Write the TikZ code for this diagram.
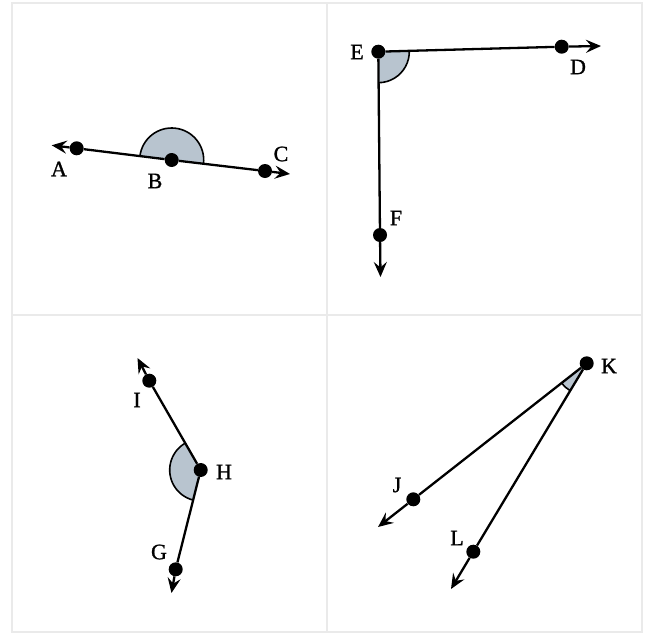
\documentclass[tikz,border=0pt]{standalone}
\usepackage{fontspec}
\setmainfont{Liberation Serif}
\newfontfamily\lblfont{Liberation Serif}[FakeBold=1.2]
\usetikzlibrary{arrows.meta}
\definecolor{wedgefill}{RGB}{184,196,207}
\definecolor{gridc}{RGB}{234,234,234}
\begin{document}
\begin{tikzpicture}[x=1pt,y=-1pt,
  dotnode/.style={circle,fill=black,inner sep=0pt,minimum size=14pt},
  lbl/.style={font=\lblfont\fontsize{22}{24}\selectfont,inner sep=0pt},
  seg/.style={line width=2.3pt},
  ray/.style={line width=2.3pt,-{Stealth[length=15pt,width=13pt,inset=5.5pt]}},
  arcline/.style={line width=1.6pt},
  frame/.style={draw=gridc,line width=1.6pt}]
\useasboundingbox (0,0) rectangle (652,637);
% frame
\draw[frame] (12,3) rectangle (642,632);
\draw[frame] (327,3) -- (327,632);
\draw[frame] (12,315) -- (642,315);

% ---- A B C
\coordinate (Bc) at (171.7,160);
\fill[wedgefill] (Bc) -- ++(6.7:32) arc[start angle=6.7,end angle=-173.3,radius=32] -- cycle;
\draw[arcline] (Bc) ++(6.7:32) arc[start angle=6.7,end angle=-173.3,radius=32];
\node[dotnode] (A) at (76.7,148.3) {};
\node[dotnode] (B) at (Bc) {};
\node[dotnode] (C) at (265,171) {};
\coordinate (At) at (51.7,145.3);
\coordinate (Ct) at (290,174);
\draw[seg] (A) -- (B);
\draw[seg] (B) -- (C);
\draw[ray] (A) -- (At);
\draw[ray] (C) -- (Ct);
\node[lbl] (la) at (59,169) {A};
\node[lbl] (lb) at (155,181) {B};
\node[lbl] (lc) at (281,154) {C};

% ---- D E F
\coordinate (Ec) at (378.3,51.7);
\fill[wedgefill] (Ec) -- ++(-1.6:31) arc[start angle=-1.6,end angle=89.5,radius=31] -- cycle;
\draw[arcline] (Ec) ++(-1.6:31) arc[start angle=-1.6,end angle=89.5,radius=31];
\node[dotnode] (E) at (Ec) {};
\node[dotnode] (D) at (561.7,46.7) {};
\node[dotnode] (F) at (380,235) {};
\coordinate (Dt) at (601,46);
\coordinate (Ft) at (380.5,277);
\draw[seg] (E) -- (D);
\draw[seg] (E) -- (F);
\draw[ray] (D) -- (Dt);
\draw[ray] (F) -- (Ft);
\node[lbl] (le) at (357,52) {E};
\node[lbl] (ld) at (578,67) {D};
\node[lbl] (lf) at (396,218) {F};

% ---- G H I
\coordinate (Hc) at (200.7,470);
\fill[wedgefill] (Hc) -- ++(104.1:31) arc[start angle=104.1,end angle=240.1,radius=31] -- cycle;
\draw[arcline] (Hc) ++(104.1:31) arc[start angle=104.1,end angle=240.1,radius=31];
\node[dotnode] (H) at (Hc) {};
\node[dotnode] (I) at (149.3,380.7) {};
\node[dotnode] (G) at (175.7,569.3) {};
\coordinate (It) at (137.5,358);
\coordinate (Gt) at (171.5,593);
\draw[seg] (H) -- (I);
\draw[seg] (H) -- (G);
\draw[ray] (I) -- (It);
\draw[ray] (G) -- (Gt);
\node[lbl] (li) at (137,400) {I};
\node[lbl] (lh) at (224,472) {H};
\node[lbl] (lg) at (159,552) {G};

% ---- J K L
\coordinate (Kc) at (586.7,363.3);
\fill[wedgefill] (Kc) -- ++(121.1:32) arc[start angle=121.1,end angle=141.9,radius=32] -- cycle;
\draw[arcline] (Kc) ++(121.1:32) arc[start angle=121.1,end angle=141.9,radius=32];
\node[dotnode] (K) at (Kc) {};
\node[dotnode] (J) at (413.3,499.3) {};
\node[dotnode] (L) at (473.3,551.7) {};
\coordinate (Jt) at (378,527);
\coordinate (Lt) at (451,589);
\draw[seg] (K) -- (J);
\draw[seg] (K) -- (L);
\draw[ray] (J) -- (Jt);
\draw[ray] (L) -- (Lt);
\node[lbl] (lk) at (609,366) {K};
\node[lbl] (lj) at (397,485) {J};
\node[lbl] (ll) at (457,538) {L};
\end{tikzpicture}
\end{document}
